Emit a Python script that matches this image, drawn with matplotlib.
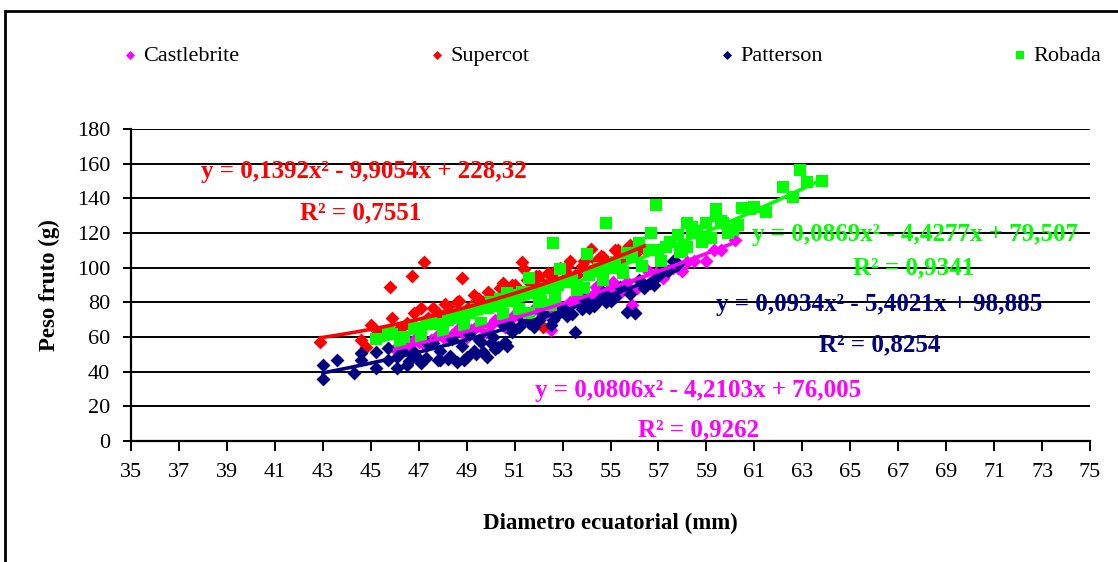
import numpy as np
import matplotlib.pyplot as plt
from matplotlib.patches import Rectangle

plt.rcParams['font.family'] = ['Liberation Serif', 'DejaVu Serif']

# fruit size vs weight, one series per apricot cultivar
cas_x = [46.0, 46.5, 47.0, 47.5, 48.0, 48.4, 48.8, 49.2, 49.6, 50.0, 50.4, 50.8,
         51.2, 51.6, 52.0, 52.5, 52.5, 52.9, 53.3, 53.7, 54.1, 54.4, 54.8, 55.1,
         55.5, 55.9, 56.0, 56.3, 56.5, 56.7, 57.0, 57.4, 57.8, 58.2, 59.3, 60.2,
         46.8, 47.3, 47.8, 48.2, 48.6, 49.0, 49.4, 49.8, 50.2, 50.6, 51.0, 51.4,
         51.8, 52.2, 52.7, 53.1, 53.5, 53.9, 54.3, 54.6, 55.0, 55.3, 55.7, 56.1,
         56.9, 57.2, 57.6, 58.0, 58.5, 59.0, 59.6]
cas_y = [53, 55, 57, 58, 60, 61, 63, 64, 66, 67, 69, 70,
         72, 73, 75, 76, 64, 78, 80, 81, 83, 89, 86, 92,
         88, 78.5, 74, 92, 98.7, 91.8, 96, 98, 100, 103, 110, 116,
         58, 55, 61, 58, 64, 60, 66, 63, 70, 66, 73, 69,
         76, 72, 79, 76, 82, 78, 85, 82, 88, 84, 92, 88,
         97, 94, 100, 98, 104, 104, 110]

sup_x = [42.9, 44.6, 44.8, 45.5, 45.8, 46.2, 46.5, 46.7, 46.9, 47.1, 47.2, 47.4,
         47.8, 48.0, 48.3, 48.6, 48.8, 48.9, 49.2, 49.5, 49.7, 50.0, 50.2, 50.5,
         50.8, 51.0, 51.3, 51.4, 51.6, 51.9, 52.1, 52.2, 52.4, 52.6, 52.9, 53.1,
         53.3, 53.5, 53.8, 54.0, 54.2, 54.4, 54.7, 55.0, 55.3, 55.6, 55.9, 56.2, 56.4,
         45.0, 45.3, 45.9, 46.3, 46.8, 47.3, 47.6, 47.9, 48.1, 48.4, 48.7, 49.0,
         49.3, 49.6, 49.9, 50.1, 50.4, 50.6, 50.9, 51.1, 51.5, 51.8, 52.0, 52.3,
         52.7, 53.0, 53.2, 53.6, 53.9, 54.3, 54.6, 54.9, 55.2, 55.5, 55.8, 56.0]
sup_y = [57, 58, 54, 63, 89, 65, 68, 95, 66, 77, 103, 71,
         74, 72, 76, 80, 94, 73, 78, 82, 80, 84, 79, 91,
         83, 90, 103, 99, 88, 95, 92, 66, 97, 94, 100, 98,
         104, 96, 101, 99, 111, 104, 106, 102, 110, 110, 107, 112, 111,
         67, 63, 71, 66, 74, 70, 77, 72, 79, 74, 81, 76,
         84, 79, 86, 81, 88, 83, 90, 85, 93, 88, 95, 90,
         98, 93, 101, 96, 104, 99, 107, 102, 110, 105, 113, 108]

pat_x = [43.0, 43.0, 43.6, 44.3, 44.6, 44.6, 45.2, 45.2, 45.7, 45.7, 46.1, 46.1,
         46.5, 46.8, 47.1, 47.6, 47.8, 48.2, 48.6, 49.0, 49.3, 49.6, 49.7, 49.85,
         50.0, 50.1, 50.3, 50.6, 50.8, 51.2, 51.6, 52.0, 52.5, 52.8, 53.2, 53.5,
         53.8, 54.1, 54.5, 54.8, 55.2, 55.7, 56.0, 56.4, 56.65, 57.0, 57.4, 57.6, 57.8,
         46.3, 46.9, 47.4, 47.9, 48.4, 48.8, 49.1, 49.5, 50.5, 50.9, 51.3, 51.8,
         52.2, 52.6, 53.0, 53.4, 53.9, 54.3, 54.7, 55.0, 55.4, 55.8, 56.2, 56.8, 57.2,
         46.6, 47.3, 47.9, 48.3, 48.9, 49.4, 50.2, 50.7]
pat_y = [43.9, 35.8, 46.7, 39.2, 50.8, 46.7, 51.4, 42.1, 53.7, 46.7, 48.5, 42.1,
         44, 51.4, 45, 56.5, 46.7, 47.3, 45.6, 48.5, 52, 57, 51.4, 48.5,
         56.5, 60, 54, 57, 67, 66, 68, 70, 67, 73, 72, 63,
         76, 77, 81.4, 80, 83, 74.4, 73.8, 88, 91, 95, 98, 104, 102,
         52, 49, 56, 52, 59, 55, 62, 58, 67, 63, 71, 66,
         74, 70, 77, 73, 82, 78, 86, 81, 89, 85, 93, 90, 98,
         46, 48, 47, 49, 47, 50, 53, 55]

rob_x = [45.2, 45.7, 46.4, 47.3, 47.7, 48.2, 48.6, 48.7, 49.4, 49.9, 50.0, 50.4,
         50.7, 51.0, 51.3, 51.6, 51.6, 52.1, 52.5, 52.6, 52.8, 52.9, 53.4, 53.9,
         54.0, 54.1, 54.5, 54.8, 55.0, 55.5, 55.7, 56.2, 56.7, 56.9, 57.0, 57.3,
         57.8, 57.9, 58.2, 58.2, 58.4, 58.4, 58.8, 58.8, 59.0, 59.4, 59.4, 59.7,
         59.9, 60.3, 60.5, 61.0, 62.2, 62.6, 62.9, 63.2, 63.8,
         45.9, 46.2, 46.8, 47.1, 47.5, 48.0, 48.4, 48.9, 49.1, 49.6, 50.2, 50.5,
         50.9, 51.2, 51.8, 52.0, 52.3, 52.7, 53.1, 53.6, 54.3, 54.7, 55.2, 55.5,
         55.9, 56.3, 56.6, 57.1, 57.5, 58.0, 58.6, 59.2, 59.6, 60.1, 60.8, 61.5]
rob_y = [59, 63, 60, 68, 67.5, 70, 71, 73, 76, 77, 80, 82,
         85.5, 84, 86, 94, 74, 81, 78.5, 114, 90, 99, 93, 88,
         108, 96, 100, 126, 100, 97.5, 108.5, 114, 120, 136, 110, 112,
         119, 109, 112, 126, 120, 123.5, 116, 115, 126, 130, 134, 126,
         120, 124.6, 134.4, 135, 146.6, 140.8, 156.4, 149.5, 150,
         62, 57, 65, 60, 68, 63, 71, 67, 74, 68, 78, 73,
         81, 76, 86, 80, 88, 83, 92, 87, 98, 93, 103, 97,
         106, 101, 110, 104, 115, 110, 121, 117, 127, 122, 134, 132]

# quadratic trendline coefficients (a, b, c) and R^2
cas_fit = (0.0806, -4.2103, 76.005)
sup_fit = (0.1392, -9.9054, 228.32)
pat_fit = (0.0934, -5.4021, 98.885)
rob_fit = (0.0869, -4.4277, 79.507)
cas_r2, sup_r2, pat_r2, rob_r2 = 0.9262, 0.7551, 0.8254, 0.9341

names = ['Castlebrite', 'Supercot', 'Patterson', 'Robada']
colors = ['#FF00FF', '#FF0000', '#000080', '#00FF00']
markers = ['D', 'D', 'D', 's']
msizes = [50, 50, 50, 68]
xs = [cas_x, sup_x, pat_x, rob_x]
ys = [cas_y, sup_y, pat_y, rob_y]
fits = [cas_fit, sup_fit, pat_fit, rob_fit]
r2s = [cas_r2, sup_r2, pat_r2, rob_r2]

# label anchors (data coords, left edge) for the equation and R^2 texts
eq_pos = [(51.85, 29.4), (37.9, 155.2), (59.4, 79.0), (60.9, 119.4)]
r2_pos = [(56.15, 6.3), (42.05, 131.6), (63.7, 55.4), (65.1, 99.8)]


def fmt(v, nd):
    return f'{abs(v):.{nd}f}'.replace('.', ',')


fig = plt.figure(figsize=(11.18, 5.62), dpi=100)
ax = fig.add_axes([0.1172, 0.2153, 0.975 - 0.1172, 0.7705 - 0.2153])

handles = []
for x, y, c, m, s, n in zip(xs, ys, colors, markers, msizes, names):
    h = ax.scatter(x, y, s=s, c=c, marker=m, linewidths=0, label=n, zorder=3)
    handles.append(h)

for x, c, (a, b, k), r2, ep, rp in zip(xs, colors, fits, r2s, eq_pos, r2_pos):
    xx = np.linspace(min(x), max(x), 100)
    ax.plot(xx, a * xx**2 + b * xx + k, color=c, lw=2.6, zorder=4)
    nd = 2 if abs(k) >= 100 else 3
    eq = f'y = {fmt(a, 4)}x² - {fmt(b, 4)}x + {fmt(k, nd)}'
    ax.text(ep[0], ep[1], eq, color=c, fontsize=18, fontweight='bold',
            va='center', ha='left', zorder=5)
    ax.text(rp[0], rp[1], f'R² = {fmt(r2, 4)}', color=c, fontsize=18,
            fontweight='bold', va='center', ha='left', zorder=5)

ax.set_xlim(35, 75)
ax.set_ylim(0, 180)
ax.set_xticks(np.arange(35, 76, 2))
ax.set_yticks(np.arange(0, 181, 20))
ax.yaxis.grid(True, color='black', lw=1.4)
ax.set_axisbelow(True)
for sp in ['top', 'right']:
    ax.spines[sp].set_visible(False)
for sp in ['left', 'bottom']:
    ax.spines[sp].set_linewidth(1.6)
ax.tick_params(axis='x', direction='out', length=7, width=1.4, pad=9, labelsize=16)
ax.tick_params(axis='y', direction='out', length=6, width=1.4, pad=9, labelsize=16)

ax.set_xlabel('Diametro ecuatorial (mm)', fontsize=16.5, fontweight='bold', labelpad=22)
ax.set_ylabel('Peso fruto (g)', fontsize=16.5, fontweight='bold', labelpad=12)

fig.legend(handles=handles, loc='upper left', bbox_to_anchor=(0.092, 0.955),
           ncol=4, frameon=False, fontsize=16, handlelength=0.6,
           handletextpad=0.3, columnspacing=8.6, markerscale=0.65)

# chart border
fig.patches.append(Rectangle((5 / 1118, -0.1), 1.2, 0.98 + 0.1, transform=fig.transFigure,
                             fill=False, lw=2, edgecolor='black', clip_on=False))

fig.savefig('out.png', dpi=100)
